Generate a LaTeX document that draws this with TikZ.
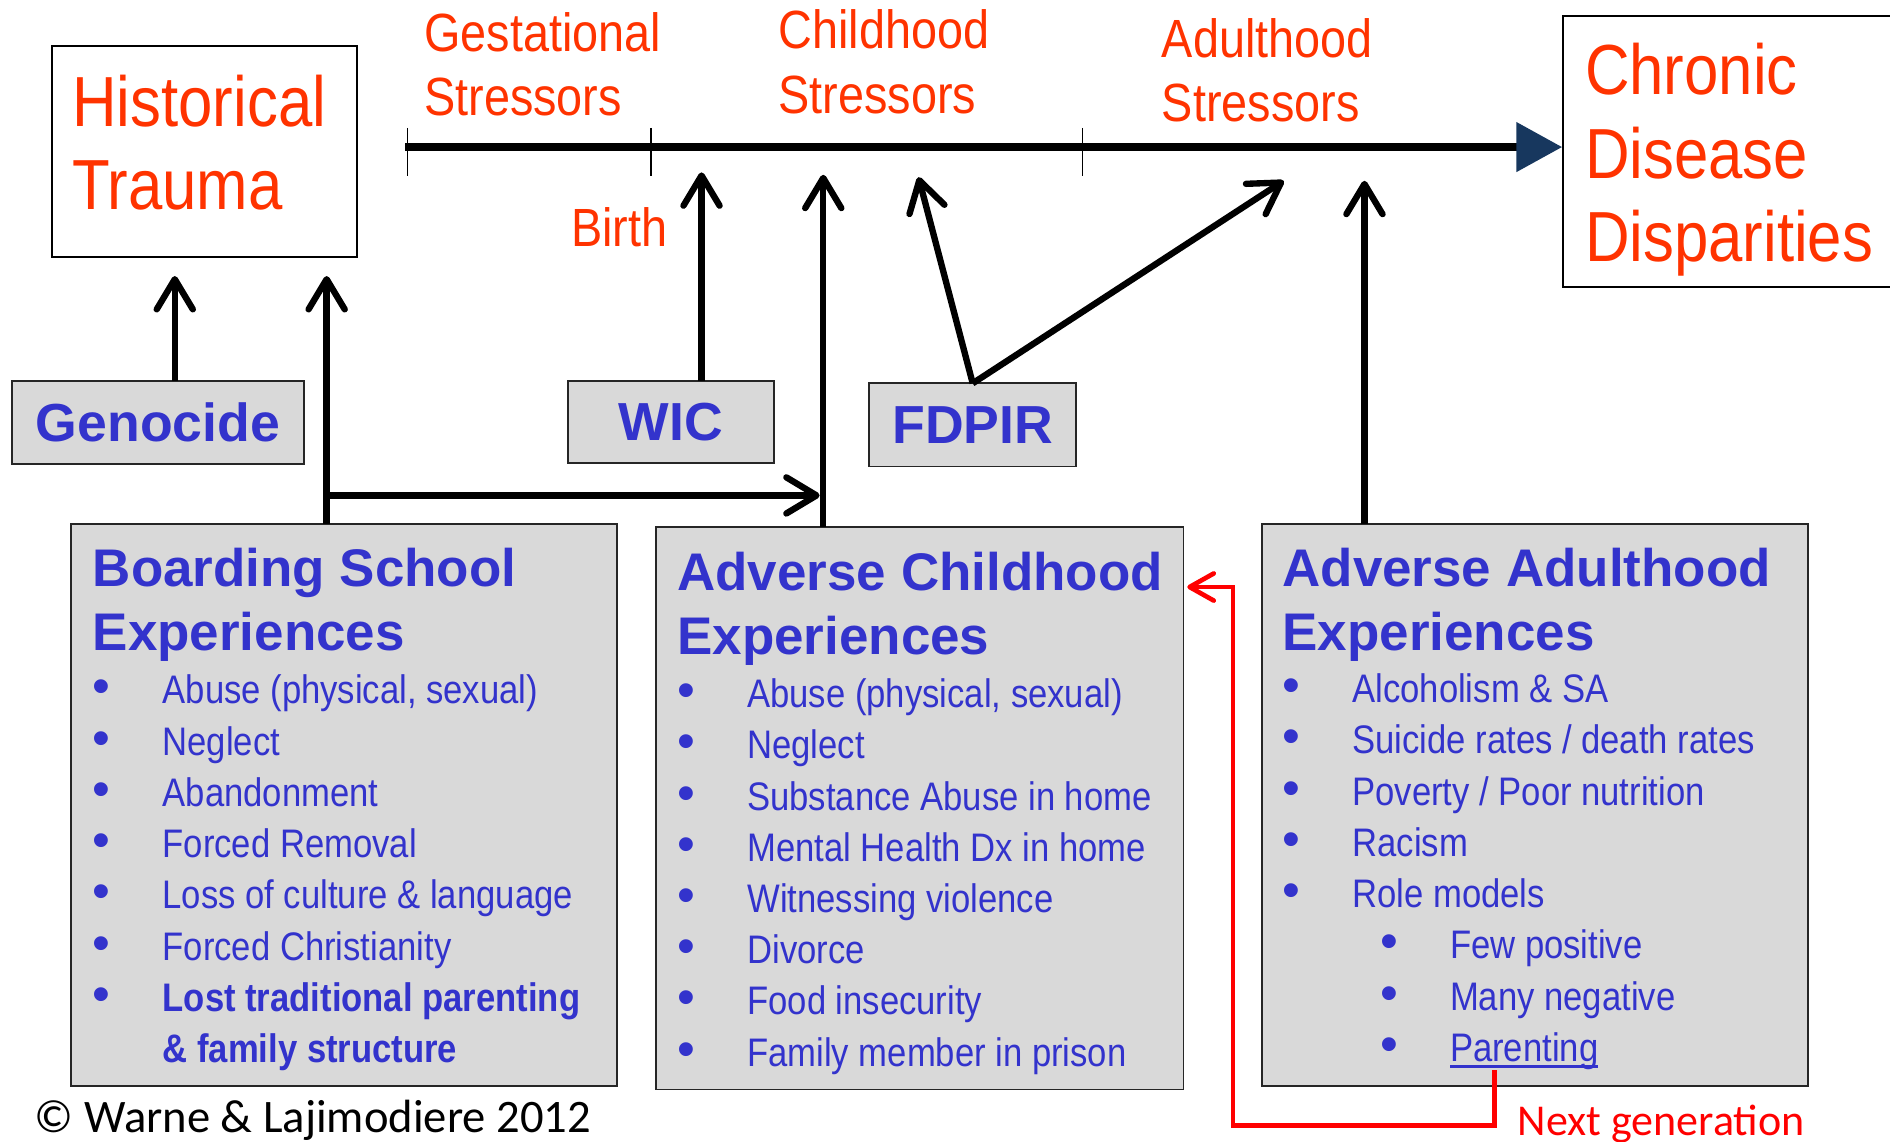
\documentclass[tikz,border=0pt]{standalone}
\usepackage{fontspec}
\setmainfont{Liberation Sans}
\newfontfamily\narrowfont[FakeStretch=0.87]{Liberation Sans}
\newfontfamily\califont{Carlito}
\usetikzlibrary{arrows.meta}
\definecolor{hot_red}{HTML}{FF3300}
\definecolor{ace_blue}{HTML}{3333CC}
\definecolor{box_gray}{HTML}{D9D9D9}
\definecolor{time_navy}{HTML}{17375E}
\definecolor{gen_red}{HTML}{FF0000}

\newcommand{\bul}{\makebox[1.16cm][l]{\normalfont\fontsize{24}{24}\selectfont\textbullet}}
\newsavebox{\ulbox}
\newcommand{\ulword}[1]{\sbox{\ulbox}{#1}\rlap{\rule[-0.17em]{\wd\ulbox}{0.08em}}\usebox{\ulbox}}

\begin{document}
\begin{tikzpicture}[x=0.02cm, y=-0.02cm,
  every node/.style={inner sep=0pt, outer sep=0pt},
  bigred/.style={anchor=north west, align=left, text=hot_red, font=\narrowfont\fontsize{33.5}{39.4}\selectfont},
  stage/.style={anchor=north west, align=left, text=hot_red, font=\narrowfont\fontsize{25.4}{30.4}\selectfont},
  whitebox/.style={draw=black, line width=0.85pt, fill=white, anchor=north west},
  graybox/.style={draw=black!85, line width=0.85pt, fill=box_gray, anchor=north west},
  prog/.style={graybox, text=ace_blue, font=\bfseries\fontsize{25.3}{30}\selectfont},
  title/.style={anchor=north west, align=left, text=ace_blue, font=\bfseries\fontsize{25}{30.2}\selectfont},
  item/.style={anchor=base west, text=ace_blue, font=\narrowfont\fontsize{18.8}{24}\selectfont},
  bolditem/.style={item, font=\narrowfont\bfseries\fontsize{18.8}{24}\selectfont},
  arr/.style={line width=3pt, -{Straight Barb[length=0.5cm, width=0.6cm, round]}},
  nextgen/.style={gen_red, line width=2.2pt, -{Straight Barb[length=0.4cm, width=0.45cm, round]}},
]
  \useasboundingbox (0,0) rectangle (1568,947);

  % Timeline
  \coordinate (tlStart) at (336,122);
  \coordinate (tlEnd) at (1296,122);
  \draw[line width=3.4pt, -{Triangle[length=0.76cm, width=0.8cm, color=time_navy]}] (tlStart) -- (tlEnd);
  \foreach \tx in {338,540,898}
    \draw[line width=0.6pt] (\tx,106) -- (\tx,146);

  % Stage labels
  \node[stage] (gest) at (352,10) {Gestational\\Stressors};
  \node[stage] (child) at (646,8) {Childhood\\Stressors};
  \node[stage] (adult) at (964,15) {Adulthood\\Stressors};
  \node[stage] (birth) at (474,172) {Birth};

  % Trauma and outcome boxes
  \node[whitebox, minimum width=5.06cm, minimum height=3.5cm] (hist) at (43,38) {};
  \node[bigred] (histtxt) at (60,62) {Historical\\Trauma};
  \node[whitebox, minimum width=5.66cm, minimum height=4.5cm] (chronic) at (1297,13) {};
  \node[bigred] (chrtxt) at (1315,36) {Chronic\\Disease\\Disparities};

  % Programs
  \node[prog, minimum width=4.84cm, minimum height=1.38cm] (genocide) at (10,316) {Genocide};
  \node[prog, minimum width=3.42cm, minimum height=1.36cm] (wic) at (471,316) {WIC};
  \node[prog, minimum width=3.44cm, minimum height=1.38cm] (fdpir) at (721,318) {FDPIR};

  % Boarding school experiences
  \node[graybox, minimum width=9.06cm, minimum height=9.32cm] (boarding) at (59,435) {};
  \node[title] (bstitle) at (77,455) {Boarding School\\Experiences};
  \foreach \t [count=\i from 0] in {{Abuse (physical, sexual)}, Neglect, Abandonment,
      {Forced Removal}, {Loss of culture \& language}, {Forced Christianity}}
    \node[item] (bs\i) at (77,584+42.5*\i) {\bul\t};
  \node[bolditem] (bs6) at (77,839) {\bul Lost traditional parenting};
  \node[bolditem] (bs7) at (135,881.5) {\& family structure};

  % Adverse childhood experiences
  \node[graybox, minimum width=8.76cm, minimum height=9.34cm] (ace) at (544,437) {};
  \node[title] (acetitle) at (562,458) {Adverse Childhood\\Experiences};
  \foreach \t [count=\i from 0] in {{Abuse (physical, sexual)}, Neglect, {Substance Abuse in home},
      {Mental Health Dx in home}, {Witnessing violence}, Divorce, {Food insecurity},
      {Family member in prison}}
    \node[item] (ace\i) at (562,587+42.5*\i) {\bul\t};

  % Adverse adulthood experiences
  \node[graybox, minimum width=9.06cm, minimum height=9.32cm] (aae) at (1047,435) {};
  \node[title] (aaetitle) at (1064,455) {Adverse Adulthood\\Experiences};
  \foreach \t [count=\i from 0] in {{Alcoholism \& SA}, {Suicide rates / death rates},
      {Poverty / Poor nutrition}, Racism, {Role models}}
    \node[item] (aae\i) at (1064,583+42.5*\i) {\bul\t};
  \foreach \t [count=\i from 5] in {{Few positive}, {Many negative}}
    \node[item] (aae\i) at (1145,583+42.5*\i) {\bul\t};
  \node[item] (aae7) at (1145,880.5) {\bul\ulword{Parenting}};

  % Arrows
  \coordinate (htA) at (145,229);
  \coordinate (htB) at (271,229);
  \coordinate (bsTip) at (680,411);
  \coordinate (birthTip) at (582,143);
  \coordinate (childTip) at (683,145);
  \coordinate (fdTipA) at (762,147);
  \coordinate (fdTipB) at (1065,150);
  \coordinate (adultTip) at (1132,150);
  \draw[arr] (genocide.north -| htA) -- (htA);
  \draw[arr] (boarding.north -| htB) -- (htB);
  \draw[arr] (htB |- bsTip) -- (bsTip);
  \draw[arr] (wic.north -| birthTip) -- (birthTip);
  \draw[arr] (ace.north -| childTip) -- (childTip);
  \draw[arr] (fdpir.north) -- (fdTipA);
  \draw[arr] (fdpir.north) -- (fdTipB);
  \draw[arr] (aae.north -| adultTip) -- (adultTip);

  % Next generation loop
  \coordinate (ngTop) at (1240,888);
  \coordinate (ngLow) at (1023,934);
  \coordinate (aceIn) at (985,487);
  \draw[nextgen] (ngTop) -- (ngTop |- ngLow) -- (ngLow) -- (ngLow |- aceIn) -- (aceIn);
  \node[anchor=north west, text=gen_red, font=\califont\fontsize{20.8}{21}\selectfont] (nexttxt) at (1259,917) {Next generation};

  % Credit
  \node[anchor=north west, font=\califont\fontsize{22}{22}\selectfont] (credit) at (29,913) {© Warne \& Lajimodiere 2012};
\end{tikzpicture}
\end{document}
